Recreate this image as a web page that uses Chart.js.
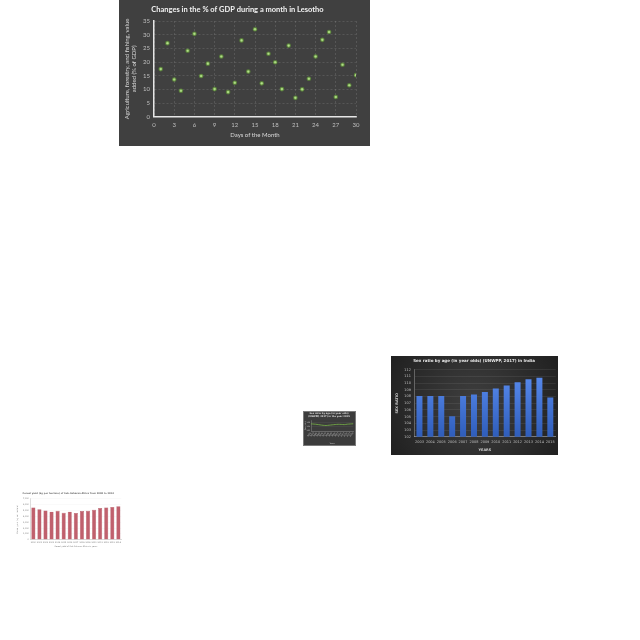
<!DOCTYPE html>
<html><head><meta charset="utf-8">
<script src="https://cdn.jsdelivr.net/npm/chart.js@4"></script>
<style>
html,body{margin:0;padding:0;background:#fff;width:640px;height:640px;overflow:hidden}
.box{position:absolute}
canvas{display:block}
</style></head><body>
<div class="box" style="left:119px;top:0px"><canvas id="c1" width="251" height="146"></canvas></div>
<div class="box" style="left:391px;top:356px"><canvas id="c2" width="167" height="99"></canvas></div>
<div class="box" style="left:303px;top:411px"><canvas id="c3" width="53" height="35"></canvas></div>
<div class="box" style="left:15px;top:488px"><canvas id="c4" width="110" height="62"></canvas></div>
<script>
// ---- Chart 1: Lesotho scatter ----
const gdpDays = [1,2,3,4,5,6,7,8,9,10,11,12,13,14,15,16,17,18,19,20,21,22,23,24,25,26,27,28,29,30];
const gdpValues = [17.4,26.9,13.6,9.5,24.1,30.3,14.9,19.4,10.1,22.0,9.0,12.4,27.9,16.5,32.0,12.2,23.0,19.9,10.1,26.0,6.9,10.0,13.9,22.0,28.1,31.0,7.2,19.0,11.5,15.2];

// ---- Chart 2: Sex ratio India ----
const sexYears = ['2003','2004','2005','2006','2007','2008','2009','2010','2011','2012','2013','2014','2015'];
const sexValues = [108.1,108.1,108.1,105.05,108.1,108.3,108.7,109.2,109.65,110.15,110.6,110.8,107.85];

// ---- Chart 3: small line chart ----
const lineYears = ['1950','1955','1960','1965','1970','1975','1980','1985','1990','1995','2000','2005','2010','2015','2020'];
const lineValues = [106.5,106.3,106.0,105.6,105.2,105.0,105.3,105.6,105.9,106.1,106.0,105.8,106.2,106.4,106.6];

// ---- Chart 4: small bar chart ----
const barYears = ['2000','2001','2002','2003','2004','2005','2006','2007','2008','2009','2010','2011','2012','2013','2014'];
const barValues = [5500,5200,5000,4800,4950,4600,4800,4550,4900,4950,5100,5400,5500,5600,5700];

const bgPlugin = {
  id: 'bg',
  beforeDraw(chart, args, opts) {
    const {ctx, width, height} = chart;
    ctx.save();
    if (opts.radial) {
      const g = ctx.createRadialGradient(width/2, height/2, 5, width/2, height/2, width*0.6);
      g.addColorStop(0, opts.radial[0]);
      g.addColorStop(1, opts.radial[1]);
      ctx.fillStyle = g;
    } else {
      ctx.fillStyle = opts.fill || '#fff';
    }
    ctx.fillRect(0, 0, width, height);
    if (opts.stroke) {
      ctx.strokeStyle = opts.stroke;
      ctx.lineWidth = 1;
      ctx.strokeRect(0.5, 0.5, width - 1, height - 1);
    }
    ctx.restore();
  }
};
Chart.register(bgPlugin);

const base = {responsive:false, maintainAspectRatio:false, animation:false, events:[]};

// Chart 1
new Chart(document.getElementById('c1'), {
  type: 'scatter',
  data: {datasets: [{
    data: gdpDays.map((d, i) => ({x: d, y: gdpValues[i]})),
    pointRadius: 1.3,
    pointBackgroundColor: '#e4f8c8',
    pointBorderColor: 'rgba(110,180,55,0.55)',
    pointBorderWidth: 2
  }]},
  options: Object.assign({}, base, {
    layout: {padding: {left: 0, right: 14, top: 0, bottom: 0}},
    plugins: {
      legend: {display: false}, tooltip: {enabled: false},
      title: {display: true, text: 'Changes in the % of GDP during a month in Lesotho', color: '#f2f2f2',
        font: {family: 'Lato', size: 7.5, weight: 'bold'}, padding: {top: 5, bottom: 7}},
      bg: {fill: '#404040'}
    },
    scales: {
      x: {type: 'linear', min: 0, max: 30,
        ticks: {stepSize: 3, color: '#bfbfbf', font: {family: 'Lato', size: 6}, padding: 4.5, maxRotation: 0, autoSkip: false},
        grid: {color: 'rgba(255,255,255,0.2)', drawTicks: false, lineWidth: 0.6},
        border: {color: '#e6e6e6', width: 1.5, dash: [2, 2]},
        title: {display: true, text: 'Days of the Month', color: '#d9d9d9', font: {family: 'Lato', size: 6}, padding: {top: 0, bottom: 7.4}},
        afterFit(s) { s.height = 29.3; }
      },
      y: {min: 0, max: 35,
        ticks: {stepSize: 5, color: '#bfbfbf', font: {family: 'Lato', size: 6}, padding: 4, autoSkip: false},
        grid: {color: 'rgba(255,255,255,0.2)', drawTicks: false, lineWidth: 0.6},
        border: {color: '#e6e6e6', width: 1.5, dash: [2, 2]},
        title: {display: true, text: ['Agriculture, forestry, and fishing, value', 'added (% of GDP)'], color: '#d9d9d9',
          font: {family: 'Lato', size: 6}, padding: {top: 4.1, bottom: 0}},
        afterFit(s) { s.width = 35; }
      }
    }
  })
});

// Chart 2
new Chart(document.getElementById('c2'), {
  type: 'bar',
  data: {labels: sexYears, datasets: [{
    data: sexValues,
    backgroundColor(ctx) {
      const ca = ctx.chart.chartArea;
      if (!ca) return '#4472c4';
      const g = ctx.chart.ctx.createLinearGradient(0, ca.bottom, 0, ca.top);
      g.addColorStop(0, '#2f5dba');
      g.addColorStop(1, '#5b8ef2');
      return g;
    },
    barPercentage: 0.55, categoryPercentage: 1
  }]},
  options: Object.assign({}, base, {
    layout: {padding: {left: 0, right: 1, top: 0, bottom: 0}},
    plugins: {
      legend: {display: false}, tooltip: {enabled: false},
      title: {display: true, text: 'Sex ratio by age (in year olds) (UNWPP, 2017) in India', color: '#e8e8e8',
        font: {family: 'DejaVu Sans', size: 4, weight: 'bold'}, padding: {top: 3, bottom: 6}},
      bg: {radial: ['#3e3e3e', '#1f1f1f']}
    },
    scales: {
      x: {
        ticks: {color: '#bfbfbf', font: {family: 'DejaVu Sans', size: 3.5}, padding: 3.2, maxRotation: 0, autoSkip: false},
        grid: {display: false, drawTicks: false},
        border: {color: '#8a8a8a', width: 0.8},
        title: {display: true, text: 'YEARS', color: '#cfcfcf', font: {family: 'DejaVu Sans', size: 3.5, weight: 'bold'}, padding: {top: 0, bottom: 2.9}},
        afterFit(s) { s.height = 18.3; }
      },
      y: {min: 102, max: 112,
        ticks: {stepSize: 1, color: '#bfbfbf', font: {family: 'DejaVu Sans', size: 3.5}, padding: 3, autoSkip: false},
        grid: {color: 'rgba(255,255,255,0.12)', drawTicks: false, lineWidth: 0.6},
        border: {color: 'rgba(255,255,255,0.35)', width: 0.8},
        title: {display: true, text: 'SEX RATIO', color: '#cfcfcf', font: {family: 'DejaVu Sans', size: 3.5, weight: 'bold'}, padding: {top: 4, bottom: 0}},
        afterFit(s) { s.width = 23; }
      }
    }
  })
});

// Chart 3
new Chart(document.getElementById('c3'), {
  type: 'line',
  data: {labels: lineYears, datasets: [{
    data: lineValues, borderColor: '#7ab648', borderWidth: 0.8, pointRadius: 0, tension: 0.2
  }]},
  options: Object.assign({}, base, {
    layout: {padding: {left: 0, right: 1, top: 0, bottom: 0}},
    plugins: {
      legend: {display: false}, tooltip: {enabled: false},
      title: {display: true, text: ['Sex ratio by age (in year olds)', '(UNWPP, 2017) in the year 2015'], color: '#dddddd',
        font: {family: 'DejaVu Sans', size: 2.3}, padding: {top: 1.5, bottom: 2}},
      bg: {fill: '#3c3c3c', stroke: '#7a7a7a'}
    },
    scales: {
      x: {
        ticks: {color: '#c8c8c8', font: {family: 'DejaVu Sans', size: 2}, padding: 1, minRotation: 45, maxRotation: 45, autoSkip: false},
        grid: {display: false, drawTicks: false},
        border: {color: '#888', width: 0.5},
        title: {display: true, text: 'Years', color: '#cccccc', font: {family: 'DejaVu Sans', size: 2}, padding: {top: 0, bottom: 1.5}},
        afterFit(s) { s.height = 15; }
      },
      y: {min: 100, max: 110,
        ticks: {stepSize: 2, color: '#c8c8c8', font: {family: 'DejaVu Sans', size: 1.8}, padding: 1},
        grid: {color: 'rgba(255,255,255,0.12)', drawTicks: false, lineWidth: 0.4},
        border: {color: '#888', width: 0.5},
        title: {display: true, text: 'Sex ratio', color: '#cccccc', font: {family: 'DejaVu Sans', size: 2}, padding: {top: 1, bottom: 0}},
        afterFit(s) { s.width = 8; }
      }
    }
  })
});

// Chart 4
new Chart(document.getElementById('c4'), {
  type: 'bar',
  data: {labels: barYears, datasets: [{
    data: barValues, backgroundColor: '#c0606d', borderColor: '#a84b58', borderWidth: 0.4,
    barPercentage: 0.67, categoryPercentage: 1
  }]},
  options: Object.assign({}, base, {
    layout: {padding: {left: 0, right: 3.6, top: 0, bottom: 0}},
    plugins: {
      legend: {display: false}, tooltip: {enabled: false},
      title: {display: true, text: 'Cereal yield (kg per hectare) of Sub-Saharan Africa from 2000 to 2014', color: '#666666',
        font: {family: 'DejaVu Sans', size: 2.3}, padding: {top: 4, bottom: 4}},
      bg: {fill: '#ffffff'}
    },
    scales: {
      x: {
        ticks: {color: '#777', font: {family: 'DejaVu Sans', size: 2}, padding: 1.5, maxRotation: 0, autoSkip: false},
        grid: {display: false, drawTicks: false},
        border: {color: '#bbbbbb', width: 0.5},
        title: {display: true, text: 'Cereal yield of Sub-Saharan Africa in years', color: '#777', font: {family: 'DejaVu Sans', size: 2}, padding: {top: 0, bottom: 2.5}},
        afterFit(s) { s.height = 10.3; }
      },
      y: {min: 0, max: 7000,
        ticks: {stepSize: 1000, color: '#777', font: {family: 'DejaVu Sans', size: 2}, padding: 1.5, autoSkip: false},
        grid: {color: 'rgba(0,0,0,0.06)', drawTicks: false, lineWidth: 0.4},
        border: {color: '#bbbbbb', width: 0.5},
        title: {display: true, text: 'Cereal yield (kg per hectare)', color: '#777', font: {family: 'DejaVu Sans', size: 2}, padding: {top: 1.5, bottom: 0}},
        afterFit(s) { s.width = 15.3; }
      }
    }
  })
});
</script>
</body></html>
